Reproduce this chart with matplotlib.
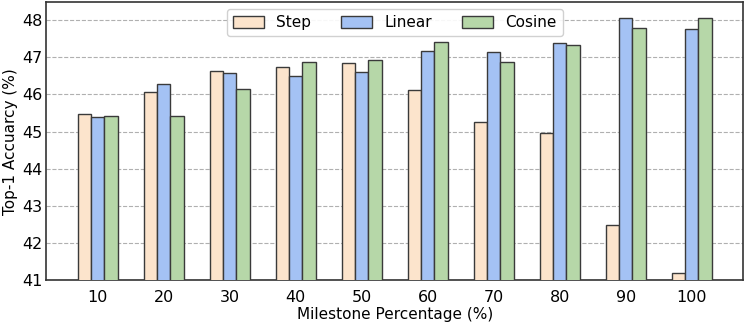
import matplotlib
matplotlib.use("Agg")
import matplotlib.pyplot as plt
import numpy as np

milestones = ["10", "20", "30", "40", "50", "60", "70", "80", "90", "100"]
step = [45.47, 46.07, 46.64, 46.75, 46.85, 46.12, 45.26, 44.96, 42.49, 41.18]
linear = [45.39, 46.29, 46.58, 46.50, 46.60, 47.18, 47.13, 47.38, 48.05, 47.77]
cosine = [45.41, 45.41, 46.14, 46.88, 46.92, 47.40, 46.86, 47.33, 47.80, 48.05]
series_names = ["Step", "Linear", "Cosine"]
colors = ["#FCE4CC", "#A4C2F4", "#B6D7A8"]

fig, ax = plt.subplots(figsize=(7.47, 3.25), dpi=100)
x = np.arange(len(milestones))
w = 0.2
for i, (vals, name, c) in enumerate(zip([step, linear, cosine], series_names, colors)):
    ax.bar(x + (i - 1) * w, vals, w, color=c, edgecolor="#3a3a3a", linewidth=1.0,
           label=name, zorder=3)

ax.set_ylim(41, 48.48)
ax.set_yticks(range(41, 49))
ax.set_xticks(x)
ax.set_xticklabels(milestones)
ax.tick_params(axis="both", labelsize=11.5, length=0)
ax.tick_params(axis="y", pad=3)
ax.tick_params(axis="x", pad=7)
ax.set_xlabel("Milestone Percentage (%)", fontsize=11, labelpad=1.5)
ax.set_ylabel("Top-1 Accuarcy (%)", fontsize=11, labelpad=3)
ax.grid(axis="y", linestyle="--", color="#b0b0b0", linewidth=0.8, zorder=0)
for s in ax.spines.values():
    s.set_color("#333333")
    s.set_linewidth(1.2)
leg = ax.legend(loc="upper center", ncol=3, fontsize=11, handlelength=2.0,
                handleheight=0.8, columnspacing=2.0, borderaxespad=0.45,
                framealpha=0.9)
leg.set_zorder(5)
plt.subplots_adjust(left=0.062, right=0.995, top=0.993, bottom=0.138)
fig.savefig("out.png", dpi=100)
